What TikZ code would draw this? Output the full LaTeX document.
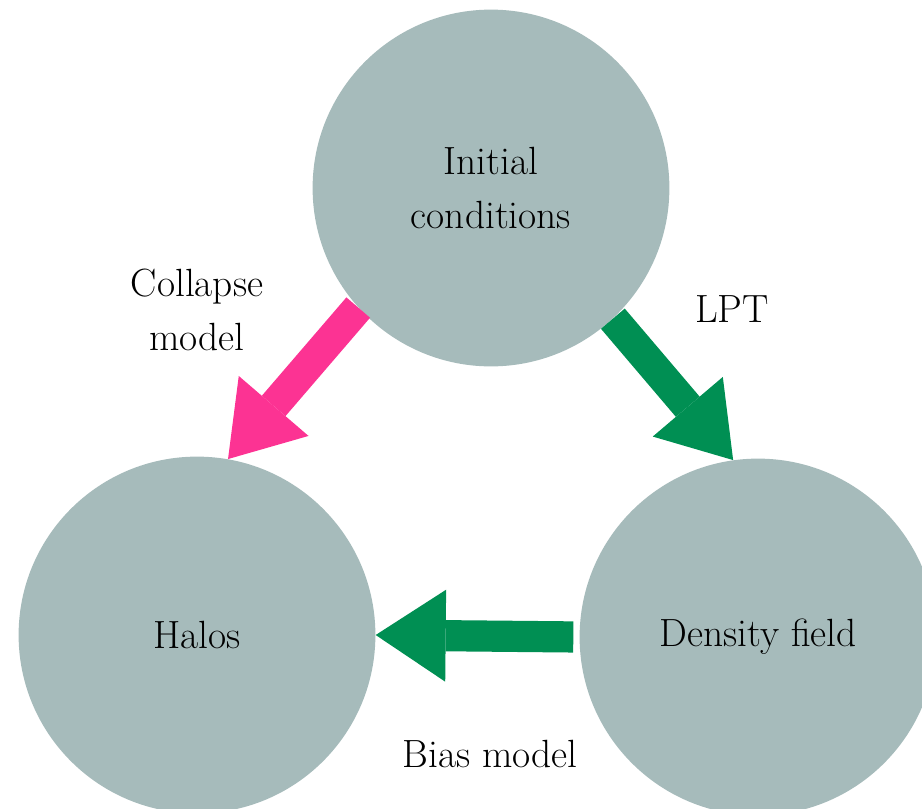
\documentclass[tikz,border=0pt]{standalone}
\usepackage{tikz}
\usetikzlibrary{arrows.meta}
\definecolor{blobgray}{RGB}{166,187,187}
\definecolor{hotpink}{RGB}{252,51,147}
\definecolor{sea}{RGB}{0,143,83}
\tikzset{
	blob/.style={circle, fill=blobgray, inner sep=0pt, minimum size=8.92cm, align=center, font=\fontsize{28}{38}\selectfont},
	lbl/.style={align=center, font=\fontsize{28}{38}\selectfont},
	fat/.style={line width=0.78cm, -{Triangle[length=1.75cm, width=2.3cm, line width=0pt]}},
}

\begin{document}
\begin{tikzpicture}
			%%%%% START %%%%%
			
			\useasboundingbox (0, 0) rectangle (23.05, -20.225);
			
			\node[blob] (init) at (12.275, -4.7) {Initial\\conditions};
			\node[blob] (halos) at (4.925, -15.875) {Halos};
			\node[blob] (dens) at (18.95, -15.925) {Density field};
			
			\draw[fat, color=hotpink] (init.222) -- (halos.80);
			\draw[fat, color=sea] (init.313) -- (dens.98);
			\draw[fat, color=sea, shorten <=0.15cm] (dens.west) -- (halos.east);
			
			\node[lbl] (collapse) at (4.925, -7.75) {Collapse\\model};
			\node[lbl] (lpt) at (18.3, -7.725) {LPT};
			\node[lbl] (bias) at (12.25, -18.85) {Bias model};
			
			%%%%% END %%%%%
		\end{tikzpicture}
\end{document}
